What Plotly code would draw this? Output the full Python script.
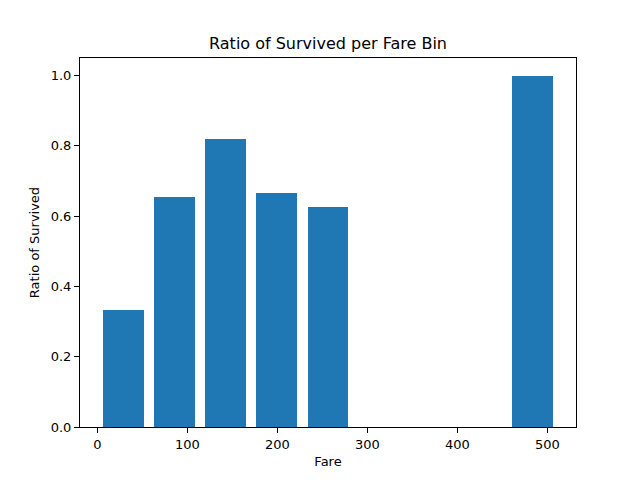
import plotly.graph_objects as go

bin_width = 512.3292 / 9
bin_index = [0, 1, 2, 3, 4, 8]
ratios = [0.3333, 0.6545, 0.8182, 0.6667, 0.625, 1.0]
centers = [(i + 0.5) * bin_width for i in bin_index]

fig = go.Figure(go.Bar(x=centers, y=ratios, width=0.8 * bin_width,
                       marker=dict(color="#1f77b4", line=dict(width=0))))

axis_common = dict(showline=True, linecolor="black", linewidth=1, mirror=True,
                   ticks="outside", ticklen=5, tickwidth=1, tickcolor="black",
                   showgrid=False, zeroline=False,
                   tickfont=dict(family="DejaVu Sans", size=13, color="black"))

fig.update_layout(
    width=640, height=480,
    paper_bgcolor="white", plot_bgcolor="white",
    margin=dict(l=80, r=64, t=58, b=53),
    font=dict(family="DejaVu Sans", color="black"),
    title=dict(text="Ratio of Survived per Fare Bin", x=0.5, xref="paper",
               y=1, yref="paper", yanchor="bottom", pad=dict(b=9),
               font=dict(size=16, color="black")),
    xaxis=dict(range=[-19.36, 531.7], tickvals=[0, 100, 200, 300, 400, 500],
               title=dict(text="Fare", font=dict(size=13), standoff=6), **axis_common),
    yaxis=dict(range=[0, 1.05], tickvals=[0, 0.2, 0.4, 0.6, 0.8, 1.0], tickformat=".1f",
               title=dict(text="Ratio of Survived", font=dict(size=13), standoff=8), **axis_common),
    bargap=0,
)

fig.write_html("out.html", config={"displayModeBar": False},
               post_script="document.body.style.margin='0';")
